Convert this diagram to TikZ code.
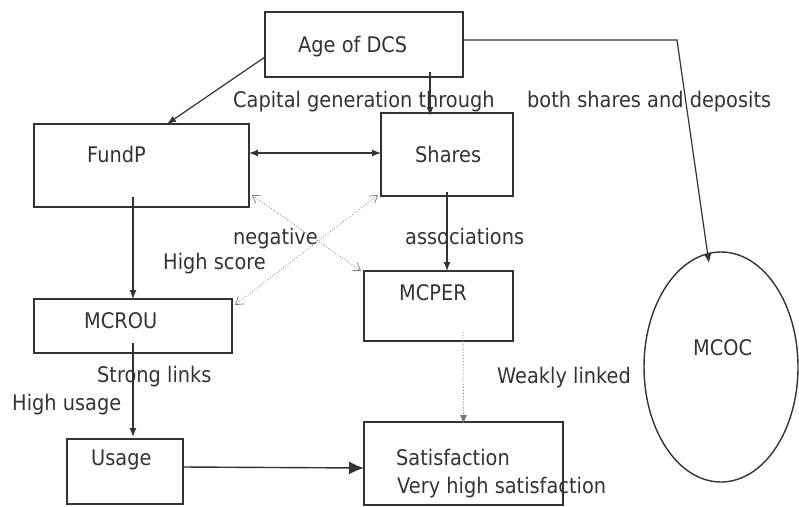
\documentclass[tikz,border=0pt]{standalone}
\usepackage{fontspec}
\setmainfont{DejaVu Sans}[FakeStretch=0.9]
\usetikzlibrary{arrows.meta,shapes.geometric}
\definecolor{ink}{RGB}{51,51,51}
\definecolor{faint}{RGB}{120,120,120}
\tikzset{
  box/.style={draw=ink, line width=1.4pt, rectangle, inner sep=0pt, outer sep=0pt},
  txt/.style={anchor=base west, inner sep=0pt, text=ink, font=\fontsize{21.5}{25}\selectfont},
  conn/.style={draw=ink, line width=1.2pt, -{Latex[length=9pt,width=7pt]}},
  bigconn/.style={draw=ink, line width=1.4pt, -{Latex[length=15pt,width=13pt]}},
  dotconn/.style={draw=faint, line width=0.8pt, dotted, {Straight Barb[length=7pt,width=9pt,line width=0.7pt]}-{Straight Barb[length=7pt,width=9pt,line width=0.7pt]}},
  weak/.style={draw=faint, line width=0.9pt, dotted, -{Latex[length=9pt,width=7pt]}}
}
\begin{document}
\begin{tikzpicture}[x=1pt,y=-1pt]
\useasboundingbox (0,0) rectangle (799,506);

% boxes
\node[box, minimum width=198pt, minimum height=65pt] (age) at (364,44.5) {};
\node[box, minimum width=215pt, minimum height=83pt] (fundp) at (141.5,165.5) {};
\node[box, minimum width=132pt, minimum height=83pt] (shares) at (447,154.5) {};
\node[box, minimum width=149pt, minimum height=70pt] (mcper) at (438.5,306) {};
\node[box, minimum width=198pt, minimum height=54pt] (mcrou) at (133,326) {};
\node[box, minimum width=116pt, minimum height=65pt] (usage) at (125,471.5) {};
\node[box, minimum width=199pt, minimum height=83pt] (satisf) at (463.5,463.5) {};
\node[draw=ink, line width=1.4pt, ellipse, inner sep=0pt, minimum width=154pt, minimum height=230pt] (mcoc) at (721,367) {};

% box texts
\node[txt] (tage) at (298,52) {Age of DCS};
\node[txt] (tfundp) at (87,162) {FundP};
\node[txt] (tshares) at (415,162) {Shares};
\node[txt] (tmcper) at (399,300) {MCPER};
\node[txt] (tmcrou) at (84,328) {MCROU};
\node[txt] (tusage) at (91,465) {Usage};
\node[txt] (tsatisf) at (396,465) {Satisfaction};
\node[txt] (tmcoc) at (693,355) {MCOC};

% connector labels
\node[txt] (lcap) at (233,107) {Capital generation through};
\node[txt] (lboth) at (527,107) {both shares and deposits};
\node[txt] (lneg) at (233,244) {negative};
\node[txt] (lhigh) at (163,269) {High score};
\node[txt] (lassoc) at (405,244) {associations};
\node[txt] (lstrong) at (97,382) {Strong links};
\node[txt] (lusage) at (12,410) {High usage};
\node[txt] (lweak) at (497,383) {Weakly linked};
\node[txt] (lvery) at (397,493) {Very high satisfaction};

% connectors
\draw[conn] ([yshift=20pt]age.south west) -- ([xshift=25.5pt]fundp.north);
\draw[conn] ([xshift=66pt,yshift=5pt]age.south) -- ([xshift=-17pt,yshift=-3pt]shares.north);
\draw[draw=ink, line width=1.2pt, {Latex[length=9pt,width=7pt]}-{Latex[length=9pt,width=7pt]}]
  ([yshift=12.5pt]fundp.east) -- ([yshift=1.5pt]shares.west);
\draw[conn] ([xshift=-8.5pt,yshift=10pt]fundp.south) -- (mcrou.north);
\draw[conn] ([yshift=4pt]shares.south) -- ([xshift=8.5pt]mcper.north);
\draw[conn] ([yshift=10pt]mcrou.south) -- ([xshift=8pt,yshift=2pt]usage.north);
\draw[bigconn] ([yshift=4.5pt]usage.east) -- ([yshift=-4.5pt]satisf.west);
\draw[weak] ([xshift=24.5pt,yshift=9pt]mcper.south) -- ([yshift=-2pt]satisf.north);
\draw[dotconn] ([xshift=3pt,yshift=12pt]fundp.south east) -- ([xshift=-3pt]mcper.north west);
\draw[dotconn] ([xshift=-3pt,yshift=1pt]shares.south west) -- ([xshift=3pt,yshift=-6pt]mcrou.north east);
\coordinate (bend) at (677,40);
\draw[conn] ([yshift=4.5pt]age.east) -- (bend) -- ([xshift=-12pt,yshift=-12pt]mcoc.north);
\end{tikzpicture}
\end{document}
